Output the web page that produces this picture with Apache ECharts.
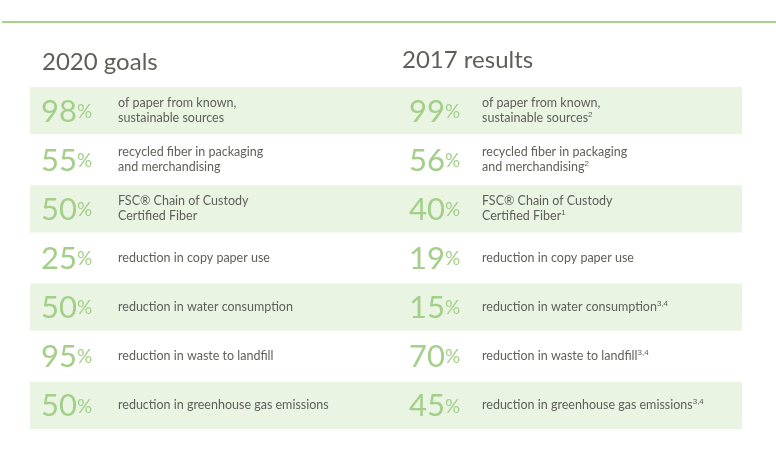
<!DOCTYPE html>
<html><head><meta charset="utf-8">
<script src="https://cdn.jsdelivr.net/npm/echarts@6/dist/echarts.min.js"></script>
<style>html,body{margin:0;background:#fff}#c{width:776px;height:469px}</style>
</head><body><div id="c"></div>
<script>
var rows = ['r1','r2','r3','r4','r5','r6','r7'];
var goalValues = [98, 55, 50, 25, 50, 95, 50];
var resultValues = [99, 56, 40, 19, 15, 70, 45];
var goalLabels = [
  'of paper from known,\nsustainable sources',
  'recycled fiber in packaging\nand merchandising',
  'FSC® Chain of Custody\nCertified Fiber',
  'reduction in copy paper use',
  'reduction in water consumption',
  'reduction in waste to landfill',
  'reduction in greenhouse gas emissions'
];
var resultLabels = [
  'of paper from known,\nsustainable sources{sup|2}',
  'recycled fiber in packaging\nand merchandising{sup|2}',
  'FSC® Chain of Custody\nCertified Fiber{sup|1}',
  'reduction in copy paper use',
  'reduction in water consumption{sup|3,4}',
  'reduction in waste to landfill{sup|3,4}',
  'reduction in greenhouse gas emissions{sup|3,4}'
];
var green = '#a3cf8a', band = '#e9f4e3', grey = '#5f5f5a';
var font = 'Lato, "Open Sans", sans-serif';

var myChart = echarts.init(document.getElementById('c'));
var data = rows.map(function (r, i) { return [0, i]; });
var option = {
  animation: false,
  grid: { left: 30, right: 34, top: 86, bottom: 39 },
  xAxis: { type: 'value', min: 0, max: 1, show: false },
  yAxis: { type: 'category', data: rows, inverse: true, show: false },
  graphic: [
    { type: 'rect', shape: { x: 2, y: 21, width: 774, height: 2 }, style: { fill: '#a8d08d' } },
    { type: 'text', left: 42, top: 50, style: { text: '2020 goals', fontSize: 24, fill: grey, fontFamily: font } },
    { type: 'text', left: 402, top: 48, style: { text: '2017 results', fontSize: 24, fill: grey, fontFamily: font } }
  ],
  series: [{
    type: 'custom',
    data: data,
    renderItem: function (params, api) {
      var i = api.value(1);
      var c = api.coord([0, i]);
      var h = api.size([0, 1])[1];
      var rich = {
        n: { fontSize: 31, fill: green, fontFamily: font },
        p: { fontSize: 19, fill: green, fontFamily: font }
      };
      var lblRich = { sup: { fontSize: 8, fill: grey, verticalAlign: 'top', padding: [0, 0, 6, 0] } };
      var children = [];
      if (i % 2 === 0) {
        children.push({ type: 'rect', shape: { x: 30, y: c[1] - h / 2 + 1, width: 712, height: h - 2 }, style: { fill: band } });
      }
      [[41, 118, goalValues, goalLabels], [409, 482, resultValues, resultLabels]].forEach(function (col) {
        children.push({ type: 'text', x: col[0], y: c[1] + 1, style: {
          text: '{n|' + col[2][i] + '}{p|%}', rich: rich, verticalAlign: 'middle', fontFamily: font } });
        children.push({ type: 'text', x: col[1], y: c[1], style: {
          text: col[3][i], rich: lblRich, fontSize: 12.5, lineHeight: 15, fill: grey, fontFamily: font, verticalAlign: 'middle' } });
      });
      return { type: 'group', children: children };
    }
  }]
};
myChart.setOption(option);
window.addEventListener('resize', function () { myChart.resize(); });
</script></body></html>
